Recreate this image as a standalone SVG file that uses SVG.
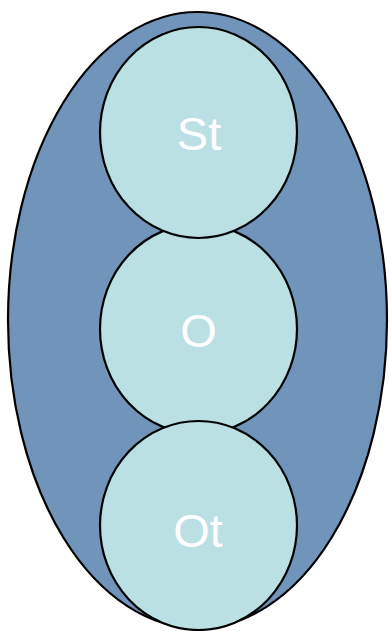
<svg xmlns="http://www.w3.org/2000/svg" width="389" height="631" viewBox="0 0 389 631">
  <style>
    .outer { fill: #7194bb; stroke: #000; stroke-width: 2.2; }
    .part { fill: #bbe0e3; stroke: #000; stroke-width: 2.2; }
    .label { fill: #fff; font-family: "Liberation Sans", Arial, sans-serif; font-size: 47px; text-anchor: middle; }
  </style>
  <g id="whole">
    <ellipse class="outer" cx="197.5" cy="320" rx="189.5" ry="308"/>
  </g>
  <g id="node-o">
    <ellipse class="part" cx="198.5" cy="329" rx="98.5" ry="105"/>
    <text class="label" x="198.5" y="347">O</text>
  </g>
  <g id="node-st">
    <ellipse class="part" cx="198.5" cy="132.5" rx="98.5" ry="105.5"/>
    <text class="label" x="199" y="150">St</text>
  </g>
  <g id="node-ot">
    <ellipse class="part" cx="198.5" cy="525.5" rx="98.5" ry="104.5"/>
    <text class="label" x="198" y="547" font-size="53">Ot</text>
  </g>
  <g id="connectors"/>
</svg>
